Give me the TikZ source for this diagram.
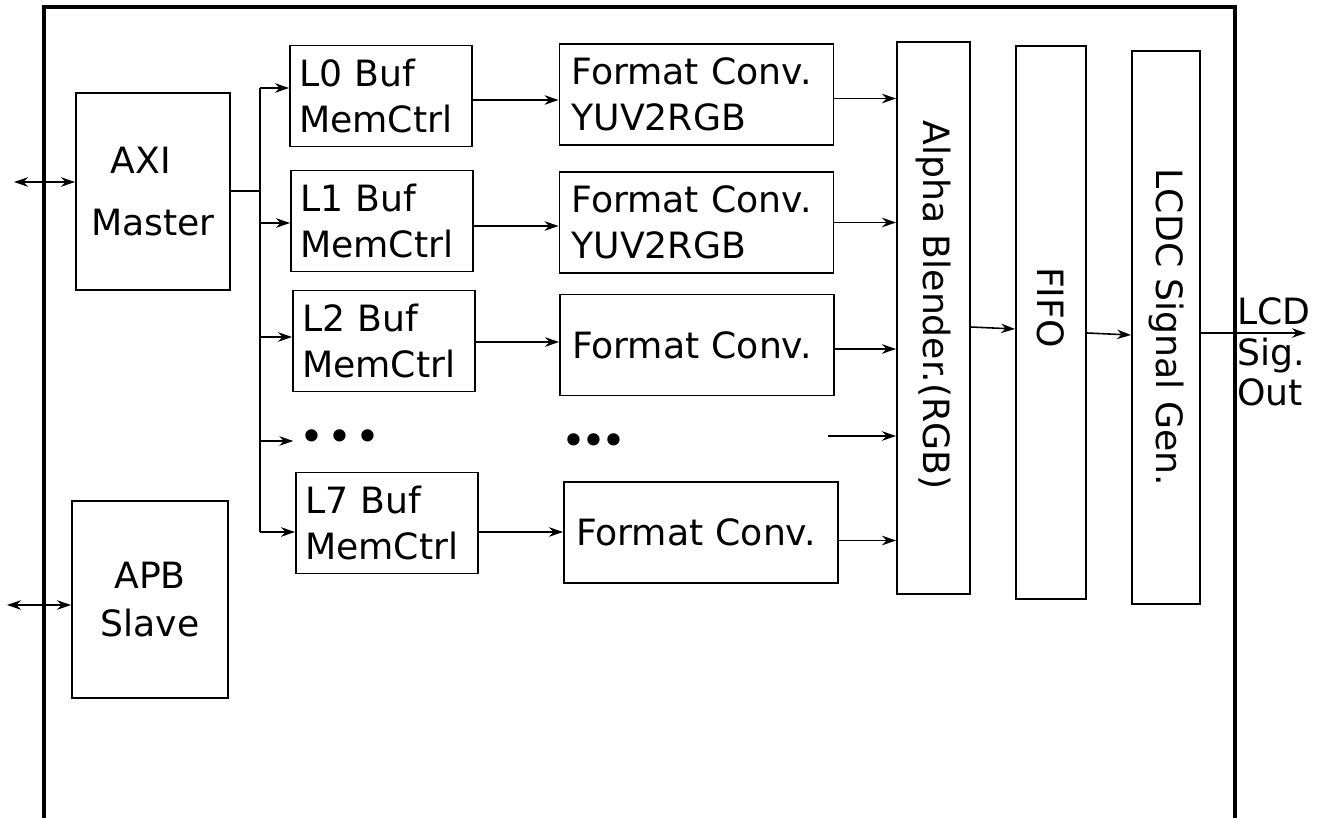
\documentclass[tikz,border=0pt]{standalone}
\usepackage{fontspec}
\setmainfont{DejaVu Sans}
\usetikzlibrary{arrows.meta, calc}
\tikzset{
  every picture/.style={font=\fontsize{20.6}{26}\selectfont},
  box/.style={draw, line width=1.1pt, align=center, inner sep=0pt},
  buf/.style={box, text width=3.28cm, align=left, inner xsep=0.18cm, minimum height=2.02cm},
  conv/.style={box, text width=5.0cm, align=left, inner xsep=0.24cm, minimum height=2.02cm},
  tall/.style={box, minimum height=11.06cm},
  arrow/.style={-{Stealth[length=2.8mm, width=1.9mm]}, line width=0.9pt},
  biarrow/.style={{Stealth[length=2.8mm, width=1.9mm]}-{Stealth[length=2.8mm, width=1.9mm]}, line width=0.9pt},
  wire/.style={line width=0.9pt},
  frame/.style={line width=1.8pt},
  dots/.style={font=\fontsize{24}{24}\selectfont, inner sep=0pt},
  outlbl/.style={font=\fontsize{20.6}{23}\selectfont, align=left, inner sep=0pt},
}

\begin{document}
\begin{tikzpicture}[x=0.02cm, y=-0.02cm]
  \useasboundingbox (0,0) rectangle (1320,818);
  % outer frame, open at the bottom
  \draw[frame] (44,818) -- (44,7) -- (1235,7) -- (1235,818);
  % bus interfaces
  \node[box, minimum width=3.08cm, minimum height=3.94cm] (AXI) at (153,191.5) {AXI\kern0.48cm\\[0.32cm]Master};
  \node[box, minimum width=3.12cm, minimum height=3.94cm] (APB) at (150,599.5) {APB\\[0.05cm]Slave};
  \coordinate (axiext) at (14,182);
  \coordinate (apbext) at (7,605);
  \draw[biarrow] (axiext) -- (axiext -| AXI.west);
  \draw[biarrow] (apbext) -- (apbext -| APB.west);
  % layers
  \node[buf] (L0) at (381,96) {L0 Buf\\MemCtrl};
  \node[buf] (L1) at (382,221) {L1 Buf\\MemCtrl};
  \node[buf] (L2) at (384,341) {L2 Buf\\MemCtrl};
  \node[buf] (L7) at (387,523) {L7 Buf\\MemCtrl};
  \node[conv] (F0) at (696.5,94.5) {Format Conv.\\YUV2RGB};
  \node[conv] (F1) at (696.5,222.5) {Format Conv.\\YUV2RGB};
  \node[conv] (F2) at (697,345) {Format Conv.};
  \node[conv] (F7) at (701,532.5) {Format Conv.};
  \node[dots, inner xsep=0.12cm] (dotsA) at (340,441) {•\kern0.06cm•\kern0.06cm•};
  \node[dots] (dotsB) at (594,445) {•\kern-0.1cm•\kern-0.1cm•};
  % output stages
  \node[tall, minimum width=1.46cm] (Alpha) at (933.5,318) {\rotatebox{-90}{Alpha Blender.(RGB)\kern0.52cm}};
  \node[tall, minimum width=1.40cm] (FIFO) at (1051,322.5) {\rotatebox{-90}{FIFO\kern0.6cm}};
  \node[tall, minimum width=1.36cm] (LCDC) at (1166,327.5) {\rotatebox{-90}{LCDC Signal Gen.}};
  \node[outlbl, anchor=west] (out) at (1237,352) {LCD\\Sig.\\Out};
  % connections
  \coordinate (bus) at (260,191);
  \draw[wire] (AXI.east |- bus) -- (bus);
  \foreach \k/\a/\b/\c in {0/-8/4/4, 1/2/5/0, 2/-4/1/4, 7/9/9/8} {
    \coordinate (bin\k) at ($(L\k.west)+(0,\a)$);
    \draw[arrow] (bus |- bin\k) -- (bin\k);
    \coordinate (lout\k) at ($(L\k.east)+(0,\b)$);
    \draw[arrow] (lout\k) -- (lout\k -| F\k.west);
    \coordinate (fout\k) at ($(F\k.east)+(0,\c)$);
    \draw[arrow] (fout\k) -- (fout\k -| Alpha.west);
  }
  \draw[wire] (bus |- bin0) -- (bus |- bin7);
  \draw[arrow] (bus |- dotsA.west) -- (dotsA.west);
  \coordinate (dotout) at (828,436);
  \draw[arrow] (dotout) -- (dotout -| Alpha.west);
  \draw[arrow] ($(Alpha.east)+(0,9)$) -- ($(FIFO.west)+(0,6.5)$);
  \draw[arrow] ($(FIFO.east)+(0,10.5)$) -- ($(LCDC.west)+(0,7.5)$);
  \coordinate (sigout) at (1306,333);
  \draw[arrow] (LCDC.east |- sigout) -- (sigout);
\end{tikzpicture}
\end{document}
